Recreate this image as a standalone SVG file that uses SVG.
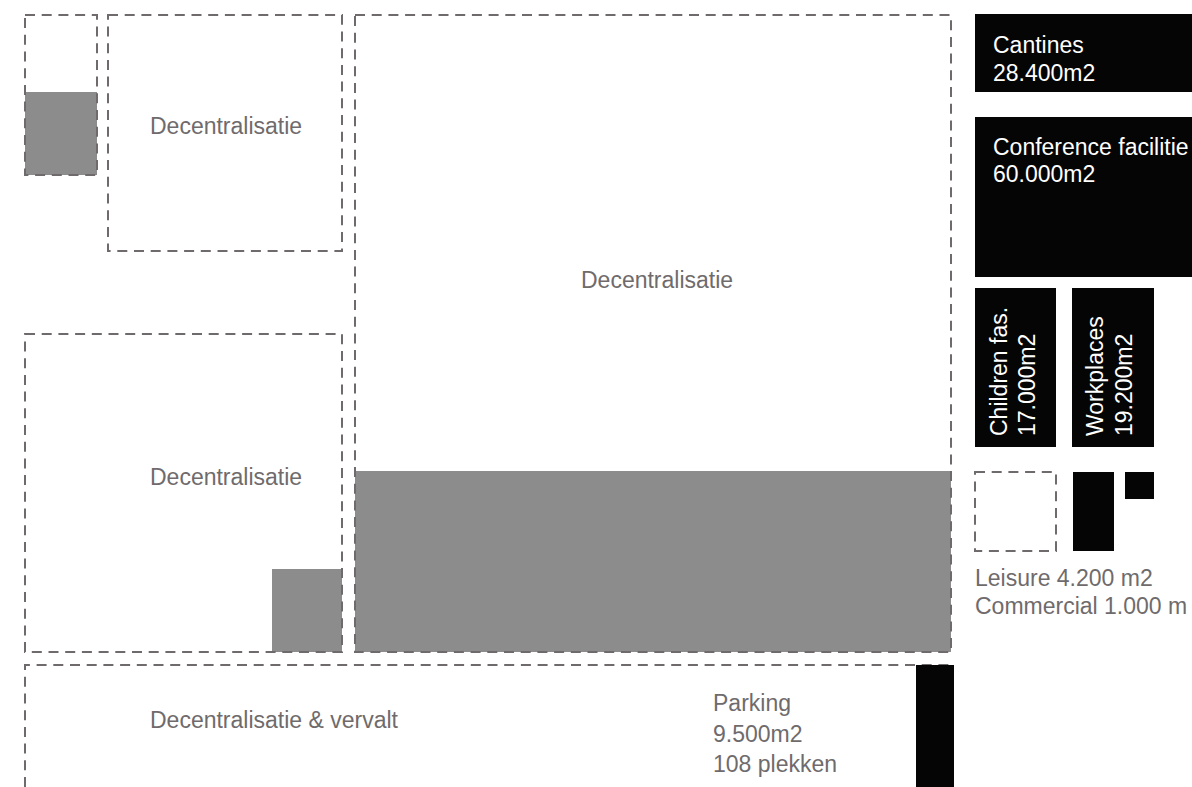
<svg xmlns="http://www.w3.org/2000/svg" width="1192" height="787" viewBox="0 0 1192 787">
<style>
.bg{fill:#ffffff}
.fill{fill:#8c8c8c}
.blk{fill:#050505}
.dash{fill:none;stroke:#6f6b6c;stroke-width:2;stroke-dasharray:10 6.7}
.lbl{font-family:"Liberation Sans",Arial,sans-serif;font-size:23px;fill:#6f6b6c}
.wt{font-family:"Liberation Sans",Arial,sans-serif;font-size:23px;fill:#ffffff}
</style>
<rect class="bg" x="0" y="0" width="1192" height="787"/>
<g id="zone-a">
<rect class="fill" x="25" y="92" width="72" height="83"/>
<rect class="dash" x="25" y="15" width="72" height="160"/>
</g>
<g id="zone-b">
<rect class="dash" x="108" y="15" width="234" height="236"/>
<text class="lbl" x="150" y="134">Decentralisatie</text>
</g>
<g id="zone-c">
<rect class="fill" x="355" y="471" width="596" height="181"/>
<rect class="dash" x="355" y="15" width="596" height="637"/>
<text class="lbl" x="581" y="288">Decentralisatie</text>
</g>
<g id="zone-d">
<rect class="fill" x="272" y="569" width="70" height="83"/>
<rect class="dash" x="25" y="334" width="317" height="318"/>
<text class="lbl" x="150" y="485">Decentralisatie</text>
</g>
<g id="zone-e">
<path class="dash" d="M25 787 V665 H951 V787"/>
<text class="lbl" x="150" y="728">Decentralisatie &amp; vervalt</text>
</g>
<g id="parking">
<rect class="blk" x="916" y="665" width="38" height="122"/>
<text class="lbl" x="713" y="711">Parking</text>
<text class="lbl" x="713" y="742">9.500m2</text>
<text class="lbl" x="713" y="772">108 plekken</text>
</g>
<g id="cantines">
<rect class="blk" x="975" y="14" width="217" height="78"/>
<text class="wt" x="993" y="53">Cantines</text>
<text class="wt" x="993" y="81">28.400m2</text>
</g>
<g id="conference">
<rect class="blk" x="975" y="117" width="217" height="160"/>
<text class="wt" x="993" y="155">Conference facilitie</text>
<text class="wt" x="993" y="182">60.000m2</text>
</g>
<g id="children">
<rect class="blk" x="975" y="288" width="81" height="159"/>
<text class="wt" transform="translate(1007 436) rotate(-90)">Children fas.</text>
<text class="wt" transform="translate(1035 436) rotate(-90)">17.000m2</text>
</g>
<g id="workplaces">
<rect class="blk" x="1072" y="288" width="82" height="159"/>
<text class="wt" transform="translate(1103 436) rotate(-90)">Workplaces</text>
<text class="wt" transform="translate(1132 436) rotate(-90)">19.200m2</text>
</g>
<g id="leisure-commercial">
<rect class="dash" x="975" y="472" width="81" height="79"/>
<rect class="blk" x="1073" y="472" width="41" height="79"/>
<rect class="blk" x="1125" y="472" width="29" height="27"/>
<text class="lbl" x="975" y="586">Leisure 4.200 m2</text>
<text class="lbl" x="975" y="614">Commercial 1.000 m</text>
</g>
</svg>
